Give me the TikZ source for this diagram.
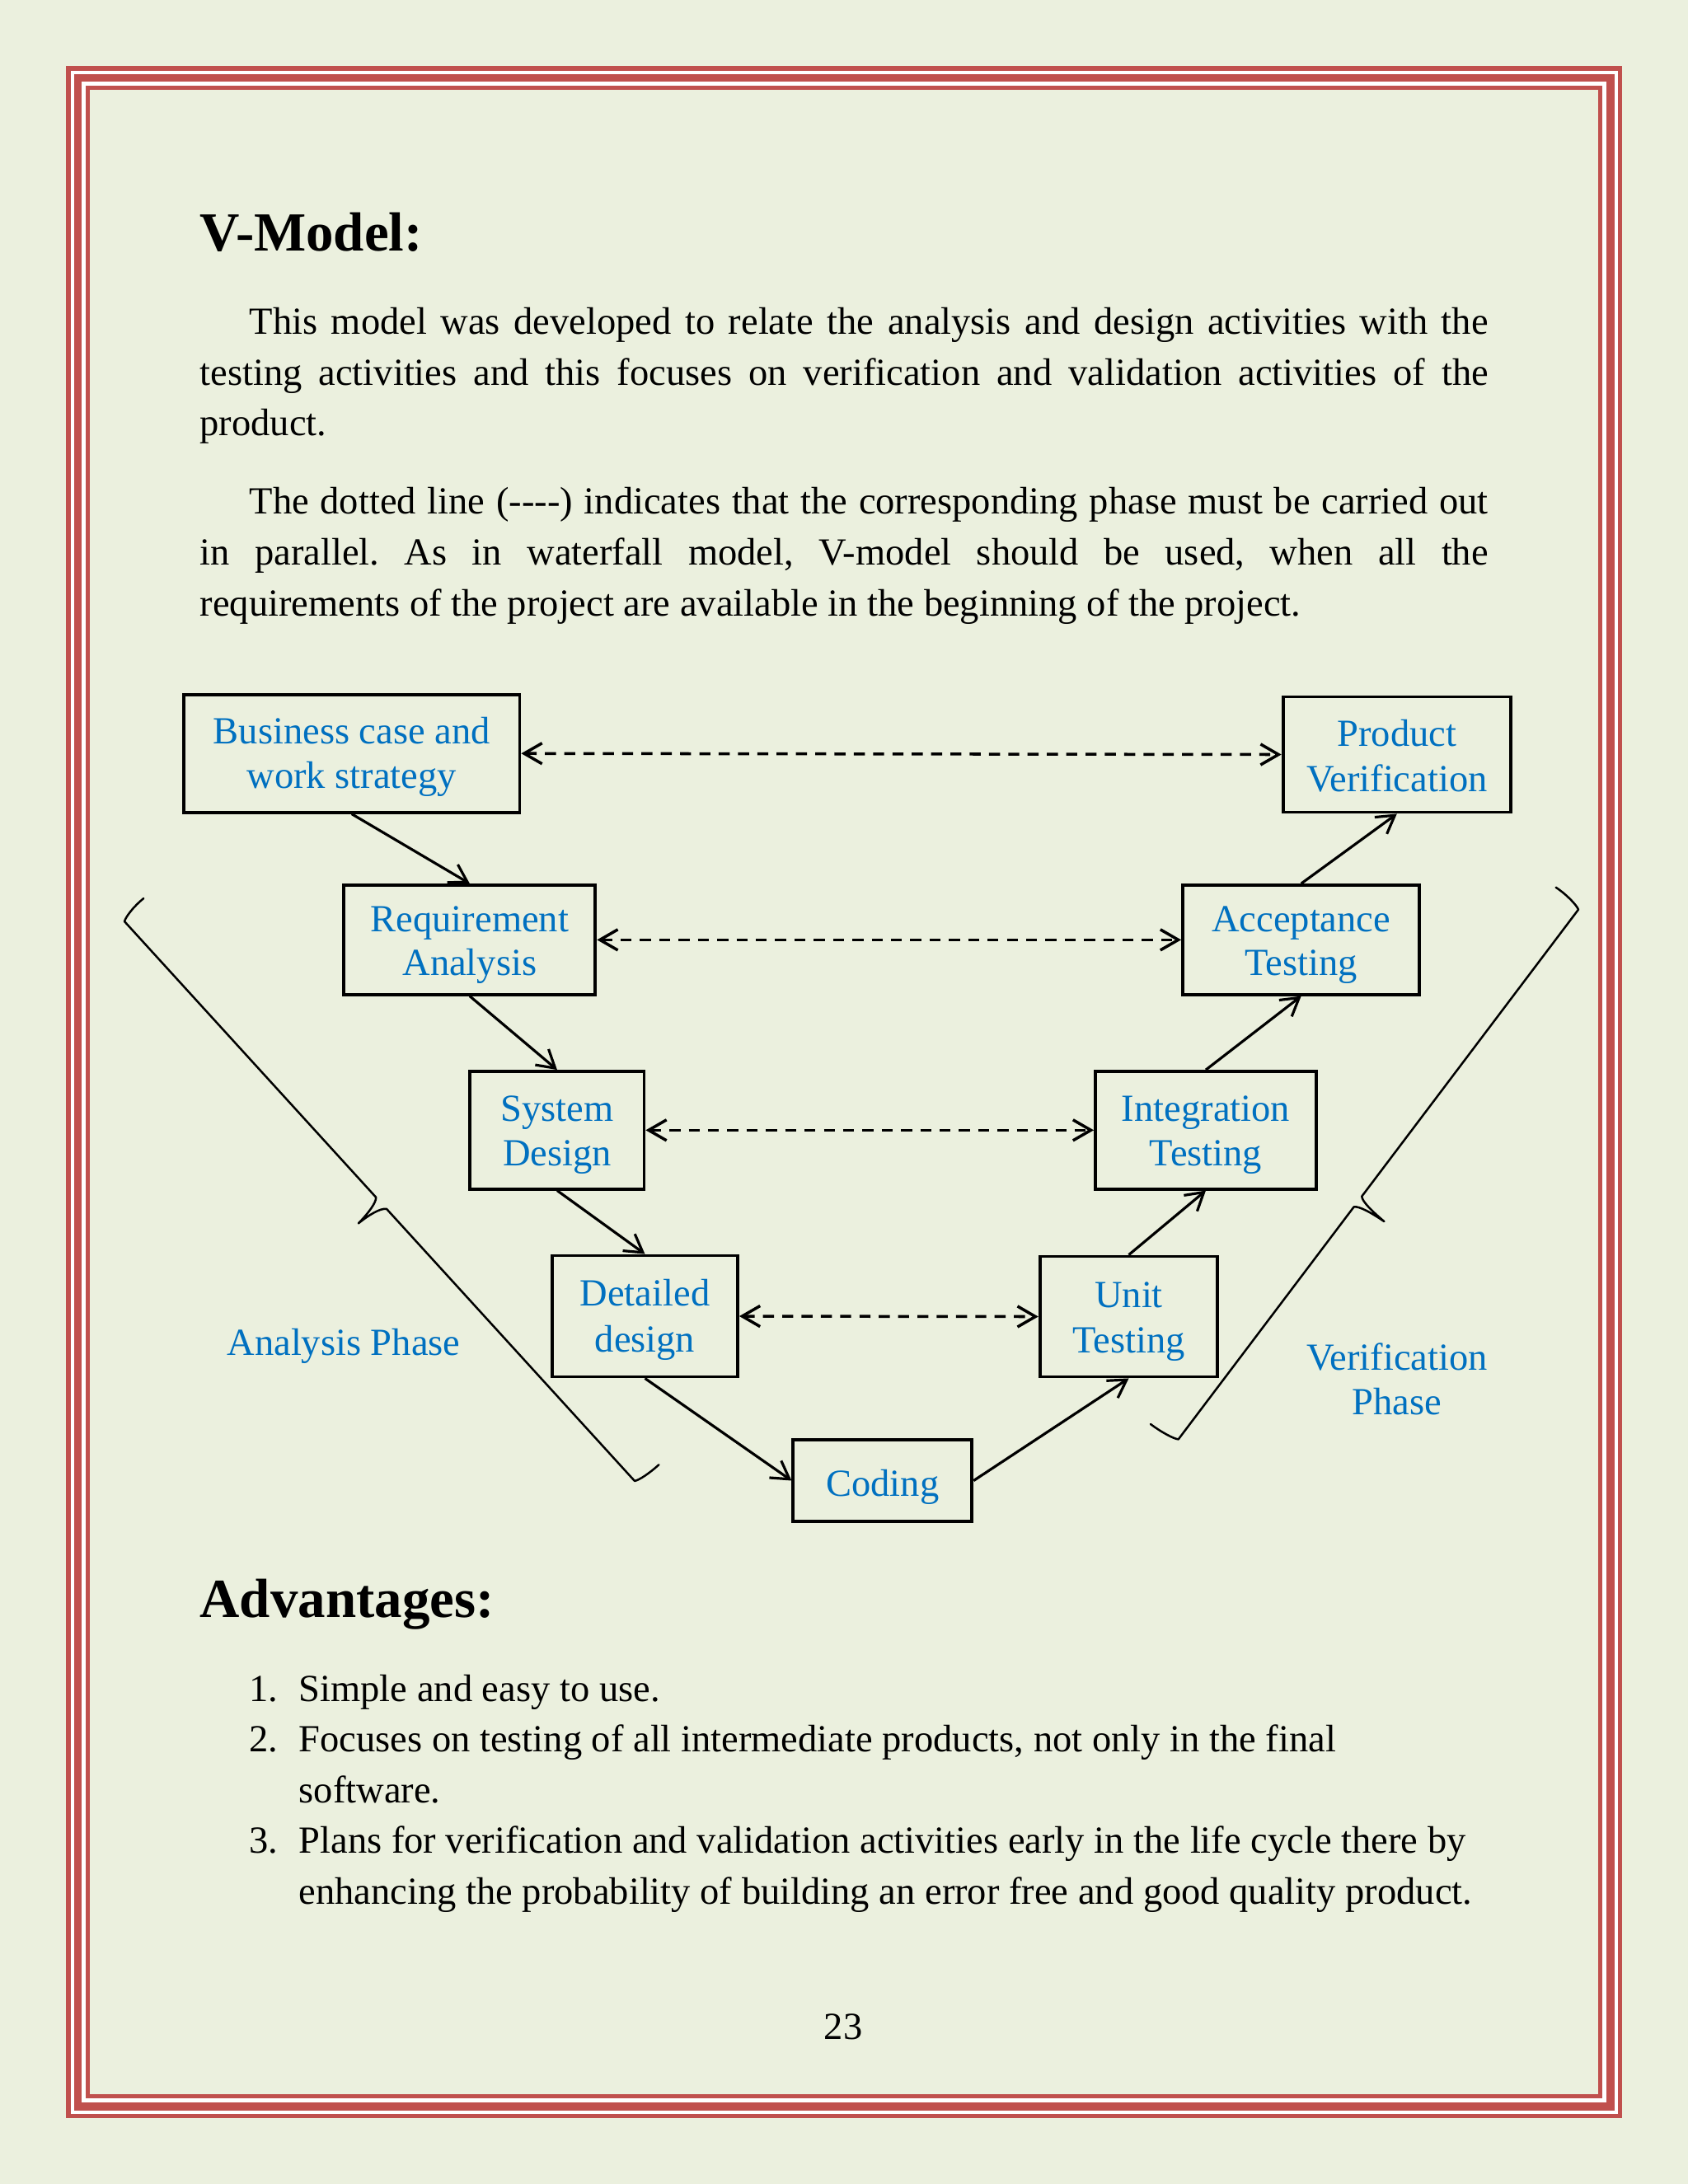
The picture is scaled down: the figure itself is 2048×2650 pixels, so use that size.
\documentclass[tikz,border=0pt]{standalone}
\usepackage{fontspec}
\setmainfont{Liberation Serif}
\usetikzlibrary{arrows.meta,calc}
\definecolor{pagebg}{RGB}{235,240,222}
\definecolor{framered}{RGB}{192,80,77}
\definecolor{vblue}{RGB}{0,112,192}
\frenchspacing
\begin{document}
\begin{tikzpicture}[x=0.298828pt,y=-0.298828pt,
  body/.style={anchor=base west, inner sep=0pt, font=\fontsize{13.9}{16}\selectfont},
  heading/.style={anchor=base west, inner sep=0pt, font=\fontsize{20}{24}\selectfont\bfseries},
  box/.style={draw=black, line width=1.15pt, inner sep=0pt},
  lbl/.style={anchor=base, inner sep=0pt, text=vblue, font=\fontsize{13.9}{16}\selectfont},
  flow/.style={line width=0.95pt, -{Straight Barb[length=6.3pt,width=7.5pt]}},
  link/.style={line width=1.05pt, dash pattern=on 4pt off 3pt, {Straight Barb[length=6.5pt,width=7.5pt]}-{Straight Barb[length=6.5pt,width=7.5pt]}},
  bracestyle/.style={line width=0.75pt, line join=round, line cap=round},
]
\useasboundingbox (0,0) rectangle (2048,2650);
% page and frame
\fill[pagebg] (0,0) rectangle (2048,2650);
\fill[framered] (80,80) rectangle (1968,2570);
\fill[white] (85.5,85.5) rectangle (1962.5,2564.5);
\fill[framered] (89.5,89.5) rectangle (1958.5,2560.5);
\fill[white] (99,99) rectangle (1949,2551);
\fill[framered] (104,104) rectangle (1944,2546);
\fill[pagebg] (109,109) rectangle (1939,2541);

% heading and paragraphs
\node[heading] (h1) at (242,304) {V-Model:};
\node[body] (p1a) at (302,405.7) {\makebox[449.1pt][s]{This model was developed to relate the analysis and design activities with the}};
\node[body] (p1b) at (242,467) {\makebox[467.1pt][s]{testing activities and this focuses on verification and validation activities of the}};
\node[body] (p1c) at (242,528.5) {product.};
\node[body] (p2a) at (302,623) {\makebox[449.1pt][s]{The dotted line ({-}{-}{-}{-}) indicates that the corresponding phase must be carried out}};
\node[body] (p2b) at (242,685) {\makebox[467.1pt][s]{in parallel. As in waterfall model, V-model should be used, when all the}};
\node[body] (p2c) at (242,747) {requirements of the project are available in the beginning of the project.};

% boxes
\node[box, minimum width=121.77pt, minimum height=42.73pt] (biz) at (426.75,914.2) {};
\node[box, minimum width=91.14pt, minimum height=39.65pt] (req) at (569.9,1140.35) {};
\node[box, minimum width=63.08pt, minimum height=42.61pt] (sys) at (675.95,1371.3) {};
\node[box, minimum width=67.24pt, minimum height=43.93pt] (det) at (782.5,1597) {};
\node[box, minimum width=64.85pt, minimum height=29.40pt] (cod) at (1070.9,1796.5) {};
\node[box, minimum width=64.43pt, minimum height=43.63pt] (unit) at (1369.5,1597.5) {};
\node[box, minimum width=80.09pt, minimum height=42.61pt] (int) at (1463,1371.3) {};
\node[box, minimum width=85.88pt, minimum height=39.65pt] (acc) at (1578.7,1140.35) {};
\node[box, minimum width=82.60pt, minimum height=41.84pt] (prod) at (1694.8,915.5) {};

% box labels
\node[lbl] (biz1) at (426.75,902.7) {Business case and};
\node[lbl] (biz2) at (426.75,956.7) {work strategy};
\node[lbl] (req1) at (569.9,1130) {Requirement};
\node[lbl] (req2) at (569.9,1183) {Analysis};
\node[lbl] (sys1) at (675.95,1360) {System};
\node[lbl] (sys2) at (675.95,1414) {Design};
\node[lbl] (det1) at (782.5,1584) {Detailed};
\node[lbl] (det2) at (782.5,1640) {design};
\node[lbl] (cod1) at (1070.9,1815) {Coding};
\node[lbl] (unit1) at (1369.5,1586) {Unit};
\node[lbl] (unit2) at (1369.5,1641.6) {Testing};
\node[lbl] (int1) at (1463,1360) {Integration};
\node[lbl] (int2) at (1463,1414) {Testing};
\node[lbl] (acc1) at (1578.7,1130) {Acceptance};
\node[lbl] (acc2) at (1578.7,1183) {Testing};
\node[lbl] (prod1) at (1694.8,905) {Product};
\node[lbl] (prod2) at (1694.8,960) {Verification};

% phase labels
\node[lbl] (ana) at (417,1644) {Analysis Phase};
\node[lbl] (ver1) at (1695,1662) {Verification};
\node[lbl] (ver2) at (1695,1716) {Phase};

% flow arrows
\draw[flow] (biz.south) -- (req.north);
\draw[flow] (req.south) -- (sys.north);
\draw[flow] (sys.south) -- (det.north);
\draw[flow] (det.south) -- (cod.west);
\draw[flow] (cod.east) -- (unit.south);
\draw[flow] (unit.north) -- (int.south);
\draw[flow] (int.north) -- (acc.south);
\draw[flow] (acc.north) -- (prod.south);

% dashed correspondences
\draw[link] (biz.east) -- (prod.west);
\draw[link] (req.east) -- (acc.west);
\draw[link] (sys.east) -- (int.west);
\draw[link] (det.east) -- (unit.west);

% left brace (analysis phase)
\begin{scope}[shift={(151,1118)}, x={(0.20132pt,-0.22083pt)}, y={(0.22083pt,0.20132pt)}]
  \draw[bracestyle] (-5,36) .. controls (-6,20) and (-3,5) .. (0,0) -- (453,0)
    .. controls (458,-4) and (461,-20) .. (462,-37)
    .. controls (463,-21) and (466,-5) .. (472,0) -- (918.8,0)
    .. controls (921.8,5) and (924,20) .. (924,35);
\end{scope}
% right brace (verification phase)
\begin{scope}[shift={(1915,1103.6)}, x={(-0.18007pt,-0.23850pt)}, y={(-0.23850pt,0.18007pt)}]
  \draw[bracestyle] (-5,38) .. controls (-6,22) and (-3,5) .. (0,0) -- (436,0)
    .. controls (441,-4) and (443,-22) .. (444,-40)
    .. controls (445,-22) and (447,-5) .. (452,0) -- (805.4,0)
    .. controls (808.4,5) and (811,22) .. (811,38);
\end{scope}

% advantages
\node[heading] (h2) at (242,1962) {Advantages:};
\node[body] (n1) at (302,2064) {1.};
\node[body] (t1) at (362,2064) {Simple and easy to use.};
\node[body] (n2) at (302,2125) {2.};
\node[body] (t2a) at (362,2125) {Focuses on testing of all intermediate products, not only in the final};
\node[body] (t2b) at (362,2187) {software.};
\node[body] (n3) at (302,2248) {3.};
\node[body] (t3a) at (362,2248) {Plans for verification and validation activities early in the life cycle there by};
\node[body] (t3b) at (362,2310) {enhancing the probability of building an error free and good quality product.};

% page number
\node[body, anchor=base] (pg) at (1023,2474) {23};
\end{tikzpicture}
\end{document}
